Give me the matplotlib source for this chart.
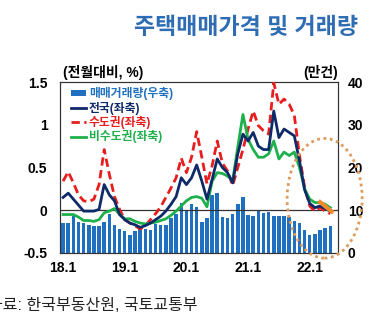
import numpy as np
import matplotlib
matplotlib.use('Agg')
import matplotlib.pyplot as plt
from matplotlib.patches import Ellipse, Patch
from matplotlib.lines import Line2D

plt.rcParams['font.family'] = ['Liberation Sans', 'Noto Sans CJK KR', 'DejaVu Sans']

# monthly data, 2018.1 ~ 2022.5
volume = [7.0, 7.0, 8.7, 7.2, 7.0, 6.6, 6.4, 6.2, 7.3, 9.1, 6.6, 5.5,
          5.1, 4.2, 5.1, 5.5, 5.5, 5.4, 6.8, 6.6, 6.6, 8.3, 9.1, 11.6,
          10.0, 11.4, 10.7, 7.3, 8.3, 13.6, 14.0, 8.4, 8.1, 9.1, 11.5, 13.2,
          8.9, 8.7, 9.9, 9.3, 9.5, 8.7, 8.7, 8.7, 8.5, 7.6, 7.0, 5.4,
          4.2, 4.4, 5.4, 5.8, 6.2]
nation = [0.15, 0.20, 0.13, 0.06, -0.01, -0.01, -0.01, 0.01, 0.30, 0.18, 0.11, -0.05,
          -0.11, -0.15, -0.17, -0.20, -0.18, -0.15, -0.11, -0.07, -0.01, 0.07, 0.16, 0.38,
          0.30, 0.38, 0.53, 0.34, 0.13, 0.36, 0.60, 0.50, 0.44, 0.32, 0.66, 0.89,
          0.81, 0.91, 0.75, 0.71, 0.71, 1.16, 0.85, 0.95, 0.91, 0.87, 0.58, 0.24,
          0.08, 0.03, 0.05, 0.02, -0.01]
capital = [0.34, 0.45, 0.32, 0.18, 0.11, 0.10, 0.13, 0.30, 0.71, 0.42, 0.16, 0.01,
           -0.11, -0.15, -0.18, -0.22, -0.18, -0.11, -0.04, 0.04, 0.15, 0.26, 0.38, 0.61,
           0.44, 0.62, 0.92, 0.62, 0.31, 0.52, 0.81, 0.55, 0.46, 0.29, 0.50, 0.71,
           0.95, 1.16, 0.99, 0.93, 0.89, 1.49, 1.24, 1.30, 1.24, 1.11, 0.64, 0.27,
           0.05, -0.01, 0.03, -0.01, -0.04]
noncapital = [-0.05, -0.05, -0.05, -0.08, -0.12, -0.12, -0.13, -0.11, -0.03, -0.01, 0.02, -0.05,
              -0.10, -0.10, -0.13, -0.15, -0.16, -0.15, -0.14, -0.12, -0.10, -0.06, -0.01, 0.05,
              0.11, 0.15, 0.16, 0.14, 0.04, 0.34, 0.44, 0.43, 0.40, 0.35, 0.74, 1.12,
              0.83, 0.71, 0.62, 0.62, 0.66, 0.81, 0.60, 0.68, 0.64, 0.68, 0.50, 0.25,
              0.13, 0.09, 0.09, 0.07, 0.03]
xtick_pos = [0, 12, 24, 36, 48]
xtick_lab = ['18.1', '19.1', '20.1', '21.1', '22.1']
# orange highlight stroke (month index, value)
hl_x = [49.7, 52.6]
hl_y = [0.11, -0.03]

c_bar = '#1f70c1'
c_nat = '#0f2a68'
c_cap = '#e61e1e'
c_non = '#1db04b'

x = np.arange(len(volume))

fig = plt.figure(figsize=(3.87, 3.30), dpi=100)
ax = fig.add_axes([60/387, 1-253/330, 278/387, 171/330])
ax2 = ax.twinx()
ax.set_zorder(ax2.get_zorder() + 1)
ax.patch.set_visible(False)

ax2.bar(x, volume, width=0.68, color=c_bar)
ax2.set_ylim(0, 40)
ax2.set_yticks([0, 10, 20, 30, 40])

ax.axhline(0, color='#333333', lw=0.9, zorder=1)
ax.plot(x, capital, color=c_cap, lw=2.0, dashes=(3, 1.6), zorder=3)
ax.plot(x, noncapital, color=c_non, lw=2.0, zorder=4)
ax.plot(x, nation, color=c_nat, lw=2.0, zorder=5)
ax.plot(hl_x, hl_y, color='#f08a2c', lw=3.0, solid_capstyle='butt', zorder=6)

ell = Ellipse((50.9, 0.14), 14.6, 1.40, fill=False, ls=(0, (1, 1.3)),
              lw=2.0, edgecolor='#dd9a5a', clip_on=False, zorder=7)
ax.add_patch(ell)

ax.set_xlim(-0.6, 53.5)
ax2.set_xlim(-0.6, 53.5)
ax.set_ylim(-0.5, 1.5)
ax.set_yticks([-0.5, 0, 0.5, 1, 1.5])
ax.set_yticklabels(['-0.5', '0', '0.5', '1', '1.5'])
ax.set_xticks(xtick_pos)
ax.set_xticklabels(xtick_lab)

for a in (ax, ax2):
    for s in a.spines.values():
        s.set_color('#333333')
        s.set_linewidth(0.8)
    a.tick_params(length=0)
ax.tick_params(axis='y', pad=9, labelsize=10)
ax.tick_params(axis='x', pad=6, labelsize=10)
ax2.tick_params(axis='y', pad=7, labelsize=10)
for t in ax.get_xticklabels() + ax.get_yticklabels() + ax2.get_yticklabels():
    t.set_fontweight('bold')

handles = [Patch(facecolor=c_bar),
           Line2D([], [], color=c_nat, lw=2.0),
           Line2D([], [], color=c_cap, lw=2.0, dashes=(3, 1.6)),
           Line2D([], [], color=c_non, lw=2.0)]
labels = ['매매거래량(우축)', '전국(좌축)', '수도권(좌축)', '비수도권(좌축)']
leg = ax.legend(handles, labels, loc='upper left', bbox_to_anchor=(0.04, 0.97),
                frameon=False, fontsize=8.5, handlelength=1.3, handleheight=0.5,
                handletextpad=0.2, labelspacing=0.12, borderpad=0, borderaxespad=0)
for txt, col in zip(leg.get_texts(), [c_bar, c_nat, c_cap, c_non]):
    txt.set_color(col)
    txt.set_fontweight('bold')
leg.set_zorder(10)

fig.text(63/387, 1-73/330, '(전월대비, %)', fontsize=10, fontweight='bold',
         ha='left', va='center')
fig.text(338/387, 1-72/330, '(만건)', fontsize=10, fontweight='bold',
         ha='right', va='center')
fig.text(246/387, 1-28/330, '주택매매가격 및 거래량', fontsize=16.5, fontweight='bold',
         color='#2e6cb3', ha='center', va='center')
fig.text(-12/387, 1-305/330, '자료: 한국부동산원, 국토교통부', fontsize=11.5,
         color='#222222', ha='left', va='center')

fig.savefig('out.png', dpi=100)
